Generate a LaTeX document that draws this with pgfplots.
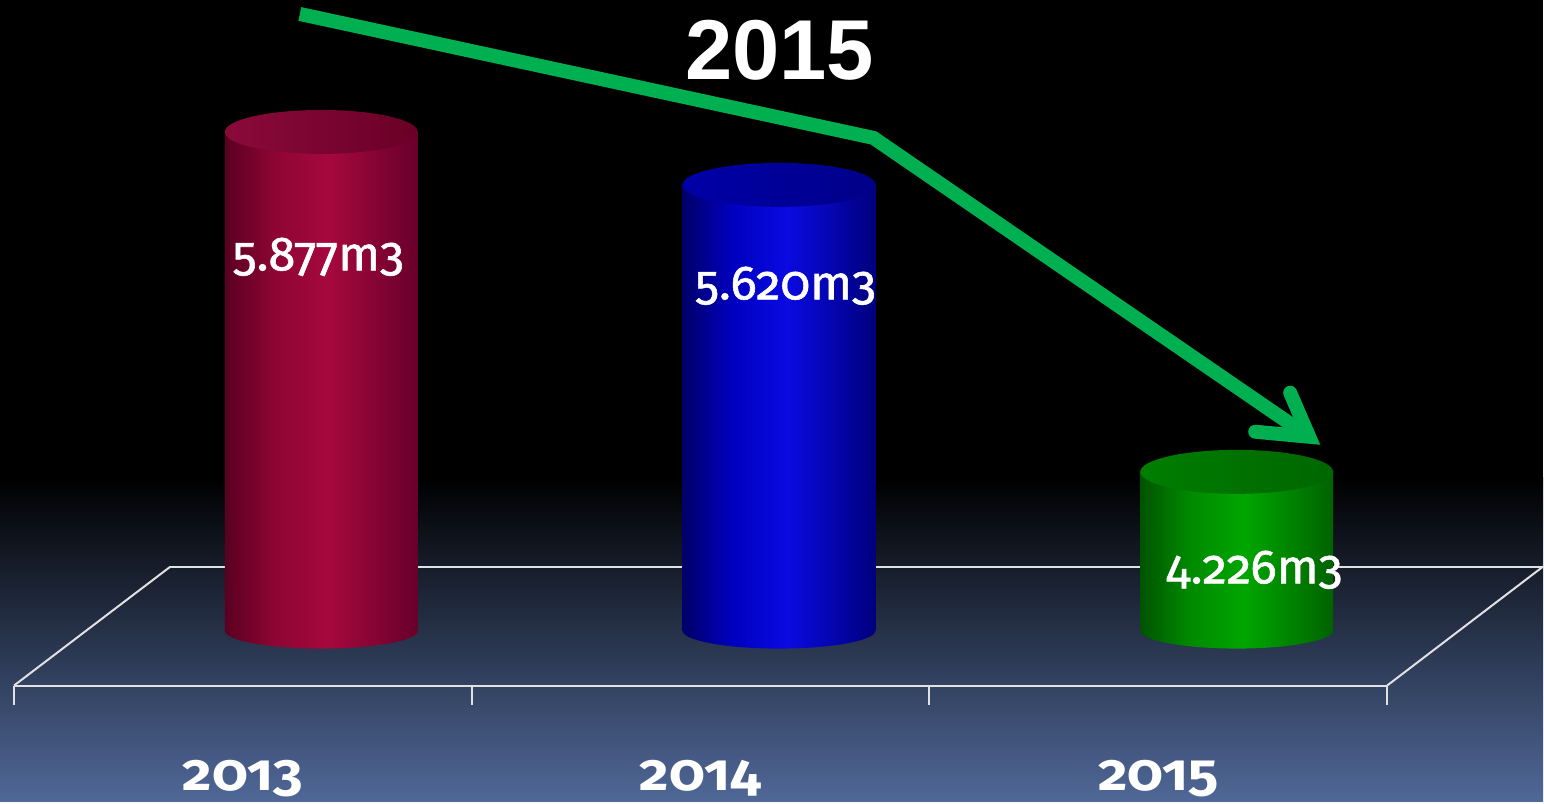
\documentclass[border=0pt]{standalone}
\usepackage{pgfplots}
\pgfplotsset{compat=1.18}
\usepackage{fontspec}
\usepackage{graphicx}
\setmainfont{Liberation Sans}
\newfontfamily\labfont[Numbers=OldStyle]{Fira Sans}
\newfontface\valfont[Numbers=OldStyle, FakeBold=1.2]{Fira Sans}

\definecolor{bgbot}{RGB}{80,104,152}
\definecolor{floorc}{RGB}{225,225,228}
\definecolor{arrowgreen}{HTML}{00B050}
% red
\definecolor{rA}{HTML}{5A0020}
\definecolor{rB}{HTML}{8E0534}
\definecolor{rC}{HTML}{A6083D}
\definecolor{rD}{HTML}{68002A}
\definecolor{rT1}{HTML}{8A0A3A}
\definecolor{rT2}{HTML}{6A0026}
% blue
\definecolor{bA}{HTML}{000068}
\definecolor{bB}{HTML}{0000C0}
\definecolor{bC}{HTML}{0A0AE2}
\definecolor{bD}{HTML}{00007E}
\definecolor{bT1}{HTML}{0000A8}
\definecolor{bT2}{HTML}{000088}
% green
\definecolor{gA}{HTML}{005400}
\definecolor{gB}{HTML}{008A00}
\definecolor{gC}{HTML}{00A600}
\definecolor{gD}{HTML}{006200}
\definecolor{gT1}{HTML}{007E00}
\definecolor{gT2}{HTML}{006600}

\pgfdeclarehorizontalshading{redbody}{100bp}{color(0bp)=(rA); color(25bp)=(rA); color(38bp)=(rB); color(52bp)=(rC); color(75bp)=(rD); color(100bp)=(rD)}
\pgfdeclarehorizontalshading{bluebody}{100bp}{color(0bp)=(bA); color(25bp)=(bA); color(38bp)=(bB); color(52bp)=(bC); color(75bp)=(bD); color(100bp)=(bD)}
\pgfdeclarehorizontalshading{greenbody}{100bp}{color(0bp)=(gA); color(25bp)=(gA); color(38bp)=(gB); color(52bp)=(gC); color(75bp)=(gD); color(100bp)=(gD)}
\pgfdeclarehorizontalshading{redtop}{100bp}{color(0bp)=(rT1); color(25bp)=(rT1); color(75bp)=(rT2); color(100bp)=(rT2)}
\pgfdeclarehorizontalshading{bluetop}{100bp}{color(0bp)=(bT1); color(25bp)=(bT1); color(75bp)=(bT2); color(100bp)=(bT2)}
\pgfdeclarehorizontalshading{greentop}{100bp}{color(0bp)=(gT1); color(25bp)=(gT1); color(75bp)=(gT2); color(100bp)=(gT2)}

\newcommand\cylmark[3]{%
  \pgfdeclareplotmark{#1}{%
    \pgfscope
    \pgfpathellipse{\pgfpointorigin}{\pgfqpoint{48.25pt}{0pt}}{\pgfqpoint{0pt}{#3}}%
    \pgfshadepath{#2}{0}%
    \pgfusepath{discard}%
    \endpgfscope}}
\cylmark{botred}{redbody}{9pt}
\cylmark{botblue}{bluebody}{9pt}
\cylmark{botgreen}{greenbody}{9pt}
\cylmark{topred}{redtop}{11pt}
\cylmark{topblue}{bluetop}{11pt}
\cylmark{topgreen}{greentop}{11pt}

\pgfplotsset{
  vallab/.style 2 args={point meta=explicit symbolic, nodes near coords={\scalebox{1.02}[1]{\pgfplotspointmeta}},
    every node near coord/.append style={font=\valfont\fontsize{24}{24}\selectfont, text=white, anchor=center, xshift=#1, yshift=#2}},
  cylbody/.style={ybar, bar width=96.5pt, bar shift=0pt, draw=none, shade, shading=#1, shading angle=0, y filter/.expression={y-3455}},
  cylcap/.style={only marks, mark=#1, y filter/.expression={y-3455}},
  cylbase/.style={only marks, mark=#1, y filter/.expression={0}},
  floor/.style={no marks, line width=1pt, color=floorc, forget plot},
}

\begin{document}
\begin{tikzpicture}
\fill[black] (0,0) rectangle (772pt,401pt);
\shade[top color=black, bottom color=bgbot] (0,0) rectangle (772pt,162pt);
\begin{axis}[
  at={(0,0)}, anchor=south west,
  width=772pt, height=401pt, scale only axis,
  xmin=-0.702, xmax=2.6692, ymin=-830, ymax=3063,
  axis line style={draw=none}, tick style={draw=none},
  ytick=\empty,
  xtick={-0.1714,0.8286,1.8286},
  xticklabels={\scalebox{1.1}[1]{2013},\scalebox{1.1}[1]{2014},\scalebox{1.1}[1]{2015}},
  x tick label style={font=\labfont\bfseries\fontsize{26}{26}\selectfont, text=white, anchor=center, yshift=11.5pt},
  clip=false,
]
% floor
\addplot[floor] coordinates {(-0.3297,310.7) (2.6692,310.7)};
\addplot[floor] coordinates {(-0.3297,310.7) (-0.6714,-267)};
\addplot[floor] coordinates {(2.6692,310.7) (2.3286,-267)};
\addplot[floor] coordinates {(-0.6714,-267) (2.3286,-267)};
\addplot[floor] coordinates {(-0.6714,-267) (-0.6714,-359)};
\addplot[floor] coordinates {(0.3286,-267) (0.3286,-359)};
\addplot[floor] coordinates {(1.3286,-267) (1.3286,-359)};
\addplot[floor] coordinates {(2.3286,-267) (2.3286,-359)};

% 2013
\addplot[cylbase=botred] coordinates {(0,5877)};
\addplot[cylbody=redbody, vallab={-1.5pt}{-62.5pt}] coordinates {(0,5877) [5.877m3]};
\addplot[cylcap=topred] coordinates {(0,5877)};
% 2014
\addplot[cylbase=botblue] coordinates {(1,5620)};
\addplot[cylbody=bluebody, vallab={3.25pt}{-50.5pt}] coordinates {(1,5620) [5.620m3]};
\addplot[cylcap=topblue] coordinates {(1,5620)};
% 2015
\addplot[cylbase=botgreen] coordinates {(2,4226)};
\addplot[cylbody=greenbody, vallab={8.75pt}{-49pt}] coordinates {(2,4226) [4.226m3]};
\addplot[cylcap=topgreen] coordinates {(2,4226)};

% trend arrow
\addplot[no marks, line width=7pt, color=arrowgreen, line cap=butt, line join=miter]
  coordinates {(-0.0469,2995.1) (1.2063,2393.2) (2.1583,941.7)};
\addplot[no marks, line width=7pt, color=arrowgreen, line cap=round, line join=miter]
  coordinates {(2.1168,1155.3) (2.1583,941.7) (2.0404,966)};

\node[font=\bfseries\fontsize{42.5}{42.5}\selectfont, text=white] at (axis cs:1.0011,2820) {2015};
\end{axis}
\end{tikzpicture}
\end{document}
